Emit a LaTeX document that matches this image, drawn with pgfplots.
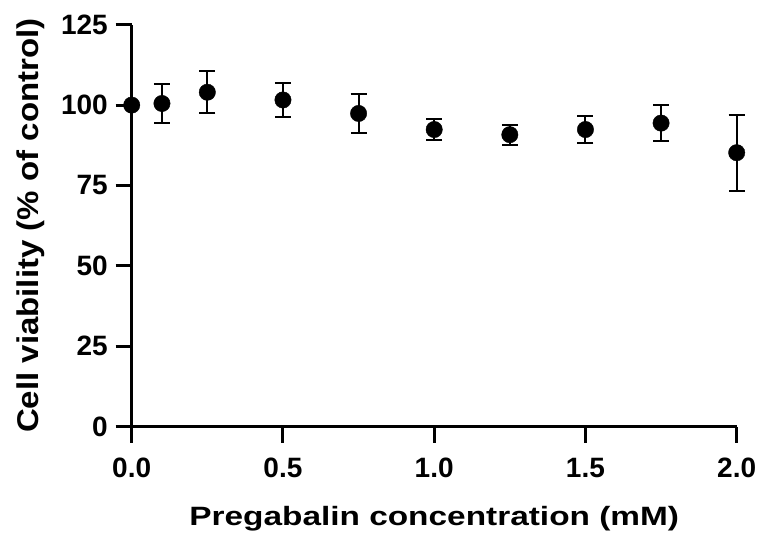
\documentclass[border=0pt]{standalone}
\usepackage{pgfplots}
\pgfplotsset{compat=1.18}
\usepackage{pgfplotstable}
\usepackage{fontspec}
\setmainfont{Liberation Sans}
\usepackage{graphicx}

\pgfplotstableread{
x    y     e
0    100.0 0
0.1  100.5 6.0
0.25 104.0 6.5
0.5  101.6 5.2
0.75 97.4  6.2
1.0  92.4  3.25
1.25 90.8  3.15
1.5  92.4  4.3
1.75 94.4  5.55
2.0  85.2  11.8
}\data

\begin{document}
\begin{tikzpicture}
\path[use as bounding box] (-131.7pt,-108.3pt) rectangle (628.3pt,426.7pt);
\begin{axis}[
  at={(0pt,0pt)}, anchor=south west,
  scale only axis, width=605pt, height=402pt,
  xmin=0, xmax=2, ymin=0, ymax=125,
  axis lines=left,
  axis line style={line width=3pt,-,black},
  clip=false,
  xtick={0,0.5,1,1.5,2},
  ytick={0,25,50,75,100,125},
  tick align=outside,
  major tick length=16pt,
  major tick style={line width=3pt,black},
  /pgf/number format/assume math mode=true,
  tick label style={font=\fontsize{28}{34}\selectfont\bfseries, inner sep=0pt},
  xticklabel style={anchor=north, yshift=-15pt,
    /pgf/number format/fixed, /pgf/number format/fixed zerofill, /pgf/number format/precision=1},
  yticklabel style={anchor=east, xshift=-7.7pt},
  xlabel={\scalebox{1.26}[1]{\fontsize{26.5}{32}\selectfont\bfseries Pregabalin concentration (mM)}},
  ylabel={\scalebox{1.1}[1]{\fontsize{30}{36}\selectfont\bfseries Cell viability (\% of control)}},
  xlabel style={at={(axis description cs:0.5,0)}, anchor=base, yshift=-98.3pt, inner sep=0pt},
  ylabel style={at={([xshift=-93.2pt]axis description cs:0,0.5)}, anchor=base, inner sep=0pt},
]
\addplot[black, only marks, mark=*, mark size=8.2pt, mark options={fill=black, draw=black},
  error bars/.cd, y dir=both, y explicit,
  error bar style={line width=2pt, black},
  error mark options={rotate=90, mark size=8pt, line width=2pt, black}]
  table[x=x, y=y, y error=e] {\data};
\end{axis}
\end{tikzpicture}
\end{document}
